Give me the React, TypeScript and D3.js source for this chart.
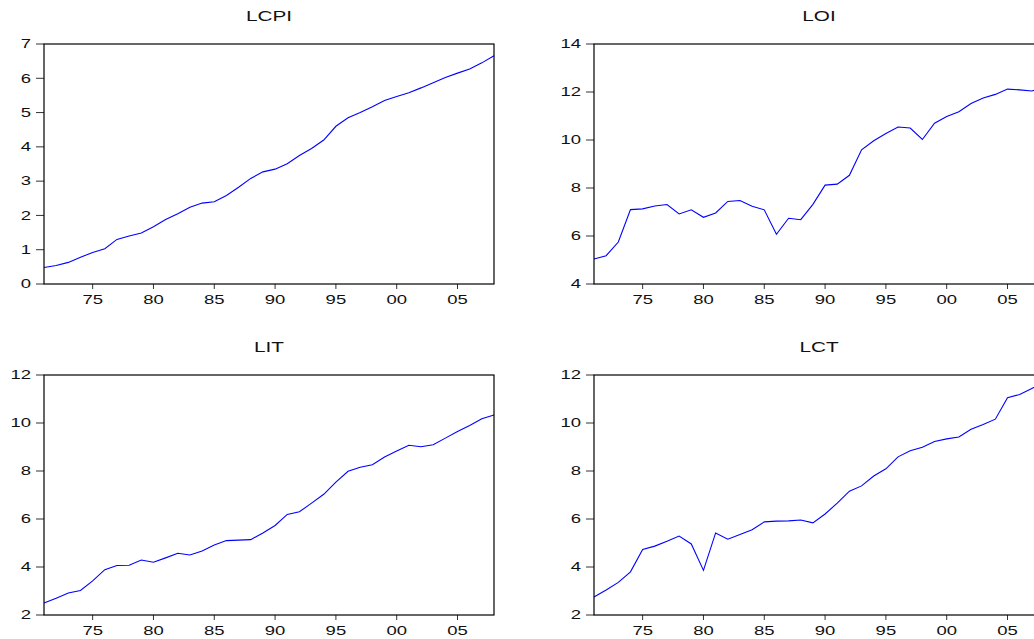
import React, { useEffect, useRef } from 'react';
import * as d3 from 'd3';

// years 1971 - 2008
const years = d3.range(1971, 2009);

const lcpi = [0.48, 0.54, 0.63, 0.78, 0.92, 1.03, 1.30, 1.40, 1.49, 1.67, 1.88, 2.05, 2.24, 2.36, 2.40, 2.58, 2.82, 3.08, 3.27, 3.35,
  3.51, 3.75, 3.95, 4.20, 4.60, 4.85, 5.00, 5.17, 5.35, 5.47, 5.58, 5.72, 5.87, 6.02, 6.15, 6.27, 6.45, 6.66];
const loi = [5.04, 5.18, 5.75, 7.10, 7.13, 7.25, 7.31, 6.92, 7.09, 6.78, 6.96, 7.44, 7.48, 7.24, 7.09, 6.07, 6.74, 6.68, 7.32, 8.12,
  8.16, 8.53, 9.59, 9.97, 10.27, 10.54, 10.50, 10.02, 10.70, 10.98, 11.18, 11.52, 11.75, 11.90, 12.12, 12.09, 12.04, 12.20];
const lit = [2.50, 2.70, 2.92, 3.02, 3.42, 3.89, 4.06, 4.07, 4.29, 4.20, 4.38, 4.57, 4.50, 4.67, 4.92, 5.10, 5.12, 5.14, 5.42, 5.73,
  6.19, 6.30, 6.66, 7.03, 7.54, 7.99, 8.16, 8.26, 8.58, 8.83, 9.07, 9.01, 9.09, 9.37, 9.65, 9.90, 10.18, 10.33];
const lct = [2.75, 3.04, 3.36, 3.80, 4.73, 4.87, 5.07, 5.29, 4.96, 3.86, 5.42, 5.16, 5.35, 5.55, 5.88, 5.91, 5.92, 5.96, 5.84, 6.21,
  6.66, 7.16, 7.38, 7.79, 8.09, 8.59, 8.84, 8.99, 9.23, 9.34, 9.42, 9.74, 9.94, 10.16, 11.05, 11.19, 11.44, 11.70];

const titles = ['LCPI', 'LOI', 'LIT', 'LCT'];
const seriesList = [lcpi, loi, lit, lct];
const yDomains = [[0, 7], [4, 14], [2, 12], [2, 12]];
const yTicks = [[0, 1, 2, 3, 4, 5, 6, 7], [4, 6, 8, 10, 12, 14], [2, 4, 6, 8, 10, 12], [2, 4, 6, 8, 10, 12]];
const xTicks = [1975, 1980, 1985, 1990, 1995, 2000, 2005];

const W = 1034, H = 639;
const panelW = 450, panelH = 240;
const origins = [[44, 44], [594, 44], [44, 375], [594, 375]];
const FONT = '"Liberation Sans", Arial, sans-serif';
const SX = 1.48; // the picture's text is stretched sideways

const App = () => {
  const ref = useRef(null);

  useEffect(() => {
    const svg = d3.select(ref.current);
    svg.selectAll('*').remove();

    const stretched = (g, x, y, txt, size, anchor, baseline) => {
      g.append('text')
        .attr('transform', `translate(${x},${y}) scale(${SX},1)`)
        .attr('text-anchor', anchor)
        .attr('dominant-baseline', baseline)
        .style('font-family', FONT)
        .style('font-size', size + 'px')
        .attr('fill', '#111')
        .text(txt);
    };

    seriesList.forEach((values, i) => {
      const [ox, oy] = origins[i];
      const g = svg.append('g').attr('transform', `translate(${ox},${oy})`);
      const x = d3.scaleLinear().domain([1971, 2008]).range([0, panelW]);
      const y = d3.scaleLinear().domain(yDomains[i]).range([panelH, 0]);

      stretched(g, panelW / 2, -23, titles[i], 14, 'middle', 'auto');

      // y ticks
      yTicks[i].forEach(t => {
        g.append('line').attr('x1', -8).attr('x2', 0).attr('y1', y(t)).attr('y2', y(t))
          .attr('stroke', '#333').attr('stroke-width', 1);
        stretched(g, -13, y(t), String(t), 12.5, 'end', 'central');
      });

      // x ticks
      xTicks.forEach(t => {
        g.append('line').attr('x1', x(t)).attr('x2', x(t)).attr('y1', panelH).attr('y2', panelH + 5)
          .attr('stroke', '#333').attr('stroke-width', 1);
        stretched(g, x(t), panelH + 20, d3.format('02d')(t % 100), 12.5, 'middle', 'auto');
      });

      const line = d3.line()
        .x((d, j) => x(years[j]))
        .y(d => y(d));
      g.append('path').datum(values)
        .attr('d', line)
        .attr('fill', 'none')
        .attr('stroke', '#0000ff')
        .attr('stroke-width', 1.1);

      g.append('rect').attr('x', 0).attr('y', 0).attr('width', panelW).attr('height', panelH)
        .attr('fill', 'none').attr('stroke', '#000').attr('stroke-width', 1.2);
    });
  }, []);

  return (
    <svg ref={ref} width={W} height={H}
      style={{ position: 'absolute', left: 0, top: 0, background: '#fff', display: 'block' }} />
  );
};

export default App;
